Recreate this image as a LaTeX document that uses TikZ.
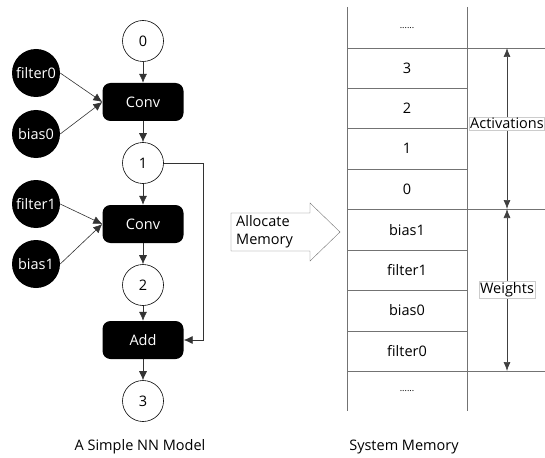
\documentclass[tikz,border=0pt]{standalone}
\usepackage{fontspec}
\setmainfont{Open Sans}
\usetikzlibrary{arrows.meta}
\tikzset{
	val/.style={draw, circle, minimum size=41pt, inner sep=0pt, fill=white, line width=0.6pt},
	wgt/.style={circle, fill=black, text=white, minimum size=48pt, inner sep=0pt},
	op/.style={rounded corners=8pt, fill=black, text=white, minimum width=81pt, minimum height=38pt},
	edge/.style={-{Latex[length=9pt,width=8pt]}, black!80, line width=0.6pt},
	grid/.style={black!55, line width=0.9pt},
	dim/.style={{Latex[length=9pt,width=7pt]}-{Latex[length=9pt,width=7pt]}, black!75, line width=0.7pt},
	tag/.style={fill=white, draw=black!20, text=black, inner sep=1pt},
	dots/.style={font=\fontsize{9}{10}\selectfont}
}
\begin{document}
\begin{tikzpicture}[x=1pt,y=-1pt,font=\fontsize{14.5}{18}\selectfont]
		\useasboundingbox (0,0) rectangle (545,457);

		\node[val] (v0) at (143,41) {0};
		\node[op] (conv0) at (143,102) {Conv};
		\node[val] (v1) at (143,163) {1};
		\node[op] (conv1) at (143,224) {Conv};
		\node[val] (v2) at (143,285) {2};
		\node[op] (add) at (143,340) {Add};
		\node[val] (v3) at (143,401) {3};

		\node[wgt] (f0) at (36,73) {filter0};
		\node[wgt] (b0) at (36,134) {bias0};
		\node[wgt] (f1) at (36,204) {filter1};
		\node[wgt] (b1) at (36,264) {bias1};

		\draw[edge] (v0) -- (conv0);
		\draw[edge] (conv0) -- (v1);
		\draw[edge] (v1) -- (conv1);
		\draw[edge] (conv1) -- (v2);
		\draw[edge] (v2) -- (add);
		\draw[edge] (add) -- (v3);
		\draw[edge] (f0.east) -- (conv0.west);
		\draw[edge] (b0.east) -- (conv0.west);
		\draw[edge] (f1.east) -- (conv1.west);
		\draw[edge] (b1.east) -- (conv1.west);
		\draw[edge] (v1.east) -- ++(39,0) |- (add.east);

		\node (cap1) at (140,447) {A Simple NN Model};

		\draw[black!55] (231,213) -- (310,213) -- (310,203) -- (340,232) -- (310,261) -- (310,251) -- (231,251) -- cycle;
		\node[anchor=west, align=left, inner sep=0pt] (alloc) at (236,232) {Allocate\\Memory};

		\draw[grid] (347,7) -- (347,411);
		\draw[grid] (467,7) -- (467,411);
		\foreach \y in {88,128,169,250,290,331}
			\draw[grid] (347,\y) -- (467,\y);
		\foreach \y in {48,209,371}
			\draw[grid] (347,\y) -- (545,\y);

		\node[dots] (mtop) at (407,28) {......};
		\node (m3) at (407,68) {3};
		\node (m2) at (407,108) {2};
		\node (m1) at (407,148) {1};
		\node (m0) at (407,189) {0};
		\node (mb1) at (407,230) {bias1};
		\node (mf1) at (407,270) {filter1};
		\node (mb0) at (407,310) {bias0};
		\node (mf0) at (407,351) {filter0};
		\node[dots] (mbot) at (407,391) {......};

		\coordinate (acttop) at (507,48);
		\coordinate (mid) at (507,209);
		\coordinate (wbot) at (507,371);
		\draw[dim] (acttop) -- node[tag, pos=0.47] (act) {Activations} (mid);
		\draw[dim] (mid) -- node[tag] (wts) {Weights} (wbot);

		\node (cap2) at (404,447) {System Memory};
	\end{tikzpicture}
\end{document}
